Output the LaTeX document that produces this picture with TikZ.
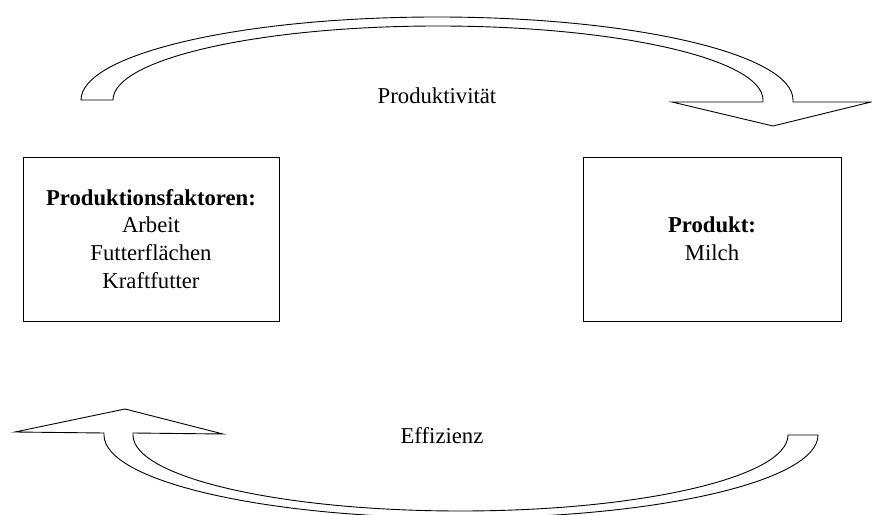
\documentclass[tikz,border=0pt]{standalone}
\usepackage{fontspec}
\setmainfont{Liberation Serif}
\tikzset{
  box/.style={draw, line width=0.9pt, align=center, inner sep=0pt,
    font=\fontsize{22.7}{27.8}\selectfont},
  lbl/.style={anchor=base, font=\fontsize{22.7}{27.8}\selectfont, inner sep=0pt},
  bentarrow/.style={draw, line width=0.9pt, line join=miter, fill=white}
}
\begin{document}
\begin{tikzpicture}[x=1pt,y=1pt]
\useasboundingbox (0,0) rectangle (872,514);
\clip (0,0) rectangle (872,514);
% top curved arrow (Produktivitaet)
\path[bentarrow] (81,414) arc[start angle=180, end angle=0, x radius=356, y radius=83]
  -- (793,412) -- (871,412) -- (773,388) -- (672,412) -- (763,412) -- (763,414)
  arc[start angle=0, end angle=180, x radius=325, y radius=74] -- cycle;
% bottom curved arrow (Effizienz)
\path[bentarrow] (818,79) arc[start angle=0, end angle=-180, x radius=357, y radius=83]
  -- (104,81) -- (15,82) -- (125,105) -- (223,80) -- (133,81) -- (133,79)
  arc[start angle=180, end angle=360, x radius=327.5, y radius=76] -- cycle;
% boxes
\node[box, minimum width=256pt, minimum height=164pt] (pf) at (151,275)
  {\textbf{Produktionsfaktoren:}\\Arbeit\\Futterflächen\\Kraftfutter};
\node[box, minimum width=258pt, minimum height=164pt] (pr) at (712,275)
  {\textbf{Produkt:}\\Milch};
% labels
\node[lbl] (prod) at (437,410) {Produktivität};
\node[lbl] (eff) at (442,71) {Effizienz};
\end{tikzpicture}
\end{document}
